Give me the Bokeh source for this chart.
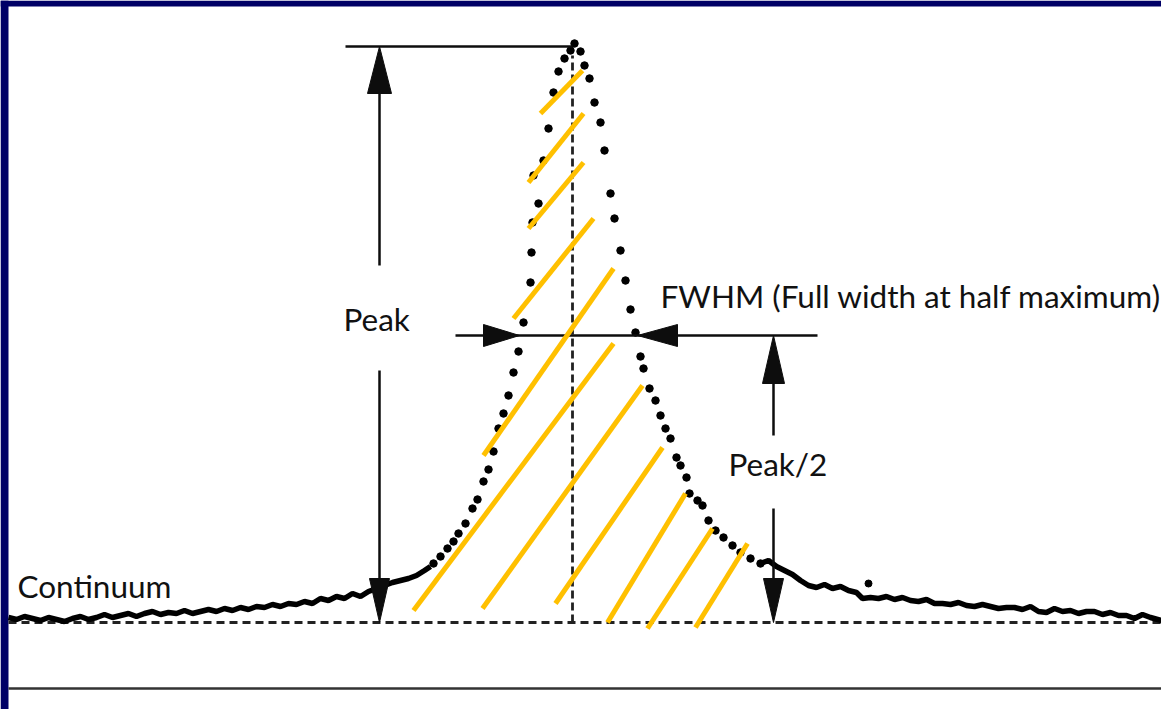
from bokeh.plotting import figure
from bokeh.models import Range1d
from bokeh.core.properties import value
from bokeh.embed import file_html
from bokeh.resources import INLINE

# ---- Spectrum data (x = position, intensity above the continuum) ----
left_tail_x = [8, 16, 24, 32, 40, 48, 56, 64, 72, 80, 88, 96, 104, 112, 120, 128, 136, 144, 152, 160,
               168, 176, 184, 192, 200, 208, 216, 224, 232, 240, 248, 256, 264, 272, 280, 288, 296, 304,
               312, 320, 328, 336, 344, 352, 360, 368, 376, 384, 392, 400, 408, 416, 424, 430]
left_tail_y = [5, 3, 6, 4, 2, 5, 3, 1, 4, 6, 3, 5, 8, 5, 7, 9, 6, 9, 11, 8,
               10, 9, 12, 9, 11, 13, 11, 14, 12, 15, 13, 16, 15, 18, 16, 19, 18, 21,
               19, 24, 22, 26, 24, 29, 26, 31, 34, 37, 40, 42, 44, 47, 52, 56]

peak_x = [433, 440, 447, 453, 458, 465, 472, 477, 483, 488, 493, 498, 503, 508, 513, 518, 523, 530,
          531, 532, 538, 533, 543, 548, 553, 558, 564, 570, 574,
          580, 584, 589, 594, 600, 604, 610, 614, 620, 625, 630, 635, 640, 643, 649, 655, 660, 665,
          670, 676, 680, 686, 689, 697, 702, 708, 715, 723, 732, 740, 750, 760]
peak_y = [59, 66, 74, 81, 89, 99, 114, 123, 141, 153, 171, 194, 209, 227, 250, 271, 300, 340,
          370, 400, 419, 447, 462, 494, 530, 551, 564, 572, 579,
          571, 557, 544, 520, 500, 472, 429, 404, 372, 342, 313, 290, 266, 254, 234, 222, 207, 194,
          184, 165, 157, 145, 129, 122, 117, 102, 92, 85, 77, 70, 64, 59]

right_tail_x = [760, 768, 776, 784, 792, 800, 808, 816, 824, 832, 840, 848, 856, 862, 870, 878, 886,
                894, 902, 910, 918, 926, 934, 942, 950, 958, 966, 974, 982, 990, 998, 1006, 1014,
                1022, 1030, 1038, 1046, 1054, 1062, 1070, 1078, 1086, 1094, 1102, 1110, 1118, 1126,
                1134, 1142, 1150, 1161]
right_tail_y = [59, 62, 56, 52, 48, 42, 37, 35, 38, 34, 36, 32, 30, 24, 25, 24, 26,
                23, 25, 22, 21, 23, 19, 19, 18, 20, 17, 16, 18, 16, 14, 15, 15,
                13, 16, 11, 10, 14, 11, 12, 9, 11, 11, 8, 10, 7, 7,
                4, 8, 5, 2]

outlier_x = [868]
outlier_y = [39]

peak_center = 572
peak_value = 576
half_value = 287

# ---- Hatch lines (orange) ----
hatch_x0 = [540, 528, 528, 513, 483, 413, 482, 555, 607, 647, 695]
hatch_y0 = [509, 440, 394, 304, 167, 12, 14, 19, 0, -6, -5]
hatch_x1 = [582, 583, 583, 593, 613, 613, 642, 662, 685, 712, 747]
hatch_y1 = [552, 509, 460, 404, 354, 279, 237, 175, 129, 94, 79]

# ---- Labels ----
label_text = ["Peak", "Continuum", "Peak/2", "FWHM (Full width at half maximum)"]
label_x = [343, 17, 728, 660]
label_y = [304, 37, 159, 327]

INK = "#0d0d0d"
NAVY = "#000066"

p = figure(width=1161, height=709, output_backend="svg", toolbar_location=None,
           x_range=Range1d(0, 1161), y_range=Range1d(-87, 622),
           x_axis_type=None, y_axis_type=None,
           min_border=0, border_fill_color="white", background_fill_color="white",
           outline_line_color=None)
p.grid.visible = False

# navy frame (left and top edges)
p.quad(left=[0, 0], right=[8, 1161], bottom=[-87, 616], top=[622, 622],
       fill_color=NAVY, line_color=None)

# bottom solid line
p.segment(x0=[8], y0=[-66], x1=[1161], y1=[-66], line_width=2.5, line_color="#333333")
# dashed continuum baseline
p.segment(x0=[8], y0=[0], x1=[1161], y1=[0], line_width=3, line_color="#222222", line_dash="8 5")
# dashed vertical at the line centre
p.segment(x0=[peak_center], y0=[0], x1=[peak_center], y1=[567], line_width=2.8,
          line_color="#222222", line_dash="8 4")

# spectrum
p.line(left_tail_x, left_tail_y, line_width=5.5, line_color="black")
p.line(right_tail_x, right_tail_y, line_width=5.5, line_color="black")
p.scatter(peak_x, peak_y, size=7.5, color="black")
p.scatter(outlier_x, outlier_y, size=7, color="black")

# Peak arrow (x = 379)
ax = 379
p.segment(x0=[345], y0=[peak_value], x1=[peak_center], y1=[peak_value], line_width=2.5, line_color=INK)
p.segment(x0=[ax, ax], y0=[529, 252], x1=[ax, ax], y1=[357, 44], line_width=2.5, line_color=INK)
p.patches(xs=[[ax, ax - 12, ax + 12], [ax, ax - 10, ax + 10]],
          ys=[[peak_value, 529, 529], [0, 44, 44]], color=INK)

# FWHM arrows
p.segment(x0=[455], y0=[half_value], x1=[817], y1=[half_value], line_width=2.5, line_color=INK)
p.patches(xs=[[519, 483, 483], [637, 677, 677]],
          ys=[[half_value, half_value + 11, half_value - 11],
              [half_value, half_value + 11, half_value - 11]], color=INK)

# Peak/2 arrow (x = 773)
bx = 773
p.segment(x0=[bx, bx], y0=[239, 114], x1=[bx, bx], y1=[187, 44], line_width=2.5, line_color=INK)
p.patches(xs=[[bx, bx - 11, bx + 11], [bx, bx - 10, bx + 10]],
          ys=[[half_value, 239, 239], [0, 44, 44]], color=INK)

# orange hatching
p.segment(x0=hatch_x0, y0=hatch_y0, x1=hatch_x1, y1=hatch_y1, line_width=5, line_color="#FFC000")

# labels
p.text(x=label_x, y=label_y, text=label_text, text_font=value("Lato"),
       text_font_size="31.5px", text_color="#111111", text_baseline="alphabetic", text_align="left")

open("out.html", "w").write(file_html(p, INLINE))
